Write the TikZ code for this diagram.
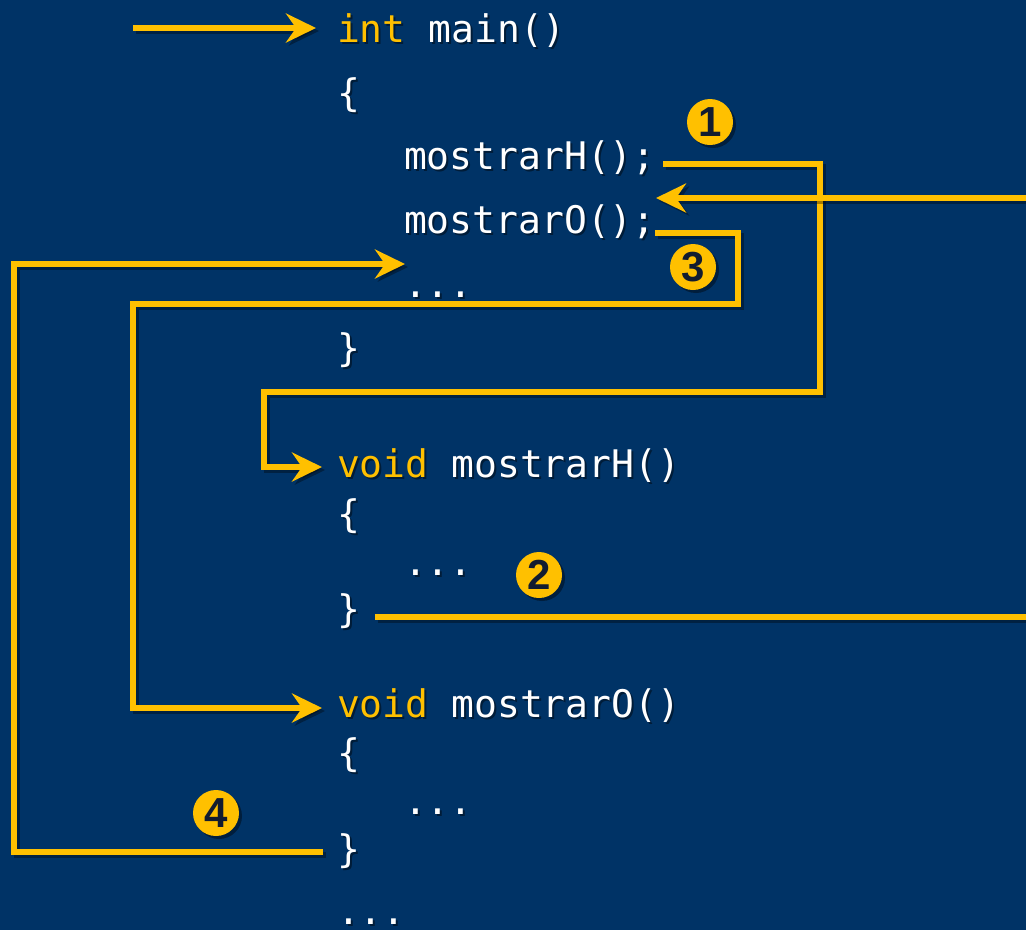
\documentclass[tikz,border=0pt]{standalone}
\usepackage{fontspec}
\newfontfamily\codefont{DejaVu Sans Mono}
\newfontfamily\badgefont{Liberation Sans}
\usetikzlibrary{arrows.meta}

\definecolor{bg}{RGB}{0,51,102}
\definecolor{gold}{RGB}{255,192,0}
\definecolor{ink}{RGB}{18,28,48}
\colorlet{kwcol}{gold}
\newcommand\kw[1]{{\color{kwcol}#1}}

\tikzset{
  code/.style={anchor=base west, inner sep=0pt, outer sep=0pt, text=white,
    font=\codefont\fontsize{38}{38}\selectfont},
  codeshadow/.style={code, text=black, opacity=0.45,
    execute at begin node={\colorlet{kwcol}{black}}},
  flow/.style={draw=gold, line width=5.5pt, line join=miter, line cap=butt},
  flowshadow/.style={draw=black, opacity=0.35, line width=5.5pt, line join=miter,
    line cap=butt, transform canvas={xshift=3pt, yshift=-3pt}},
  tip/.style={-{Stealth[length=30pt, width=29pt, inset=10pt]}},
  badge/.style={circle, fill=gold, minimum size=46pt, inner sep=0pt, text=ink,
    font=\badgefont\bfseries\fontsize{42}{42}\selectfont},
  badgeshadow/.style={circle, fill=black, opacity=0.4, minimum size=46pt, inner sep=0pt},
}

% one line of code with its drop shadow
\newcommand\codeline[4]{%
  \node[codeshadow] at ([xshift=2pt, yshift=-2pt]#2,#3) {#4};
  \node[code] (#1) at (#2,#3) {#4};}
% a numbered marker with its drop shadow
\newcommand\marker[4]{%
  \node[badgeshadow] at ([xshift=3pt, yshift=-3pt]#2,#3) {};
  \node[badge] (#1) at (#2,#3) {#4};}
% a connector with its drop shadow
\newcommand\flowline[2]{%
  \draw[flowshadow, #1] #2;
  \draw[flow, #1] #2;}

\begin{document}
\begin{tikzpicture}[x=1pt, y=-1pt]
  \fill[bg] (0,0) rectangle (1026,930);
  \useasboundingbox (0,0) rectangle (1026,930);

  % main()
  \codeline{mainhead}{337}{42}{\kw{int} main()}
  \codeline{mainopen}{337}{106}{\{}
  \codeline{callH}{404}{169}{mostrarH();}
  \codeline{callO}{404}{233}{mostrarO();}
  \codeline{mainrest}{404}{297}{...}
  \codeline{mainclose}{337}{361}{\}}

  % mostrarH()
  \codeline{hhead}{337}{477}{\kw{void} mostrarH()}
  \codeline{hopen}{337}{527}{\{}
  \codeline{hbody}{404}{575}{...}
  \codeline{hclose}{337}{622}{\}}

  % mostrarO()
  \codeline{ohead}{337}{717}{\kw{void} mostrarO()}
  \codeline{oopen}{337}{766}{\{}
  \codeline{obody}{404}{814}{...}
  \codeline{oclose}{337}{862}{\}}
  \codeline{tail}{337}{924}{...}

  % connector end points and corners
  \coordinate (in0) at (133,28);   \coordinate (in1) at (316,28);
  \coordinate (h0) at (663,164);   \coordinate (h1) at (820,164);
  \coordinate (h2) at (820,392);   \coordinate (h3) at (264,392);
  \coordinate (h4) at (264,467);   \coordinate (h5) at (322,467);
  \coordinate (rh0) at (1030,198); \coordinate (rh1) at (656,198);
  \coordinate (eh0) at (375,617);  \coordinate (eh1) at (1030,617);
  \coordinate (o0) at (655,233);   \coordinate (o1) at (738,233);
  \coordinate (o2) at (738,304);   \coordinate (o3) at (133,304);
  \coordinate (o4) at (133,708);   \coordinate (o5) at (322,708);
  \coordinate (ro0) at (323,852);  \coordinate (ro1) at (14,852);
  \coordinate (ro2) at (14,264);   \coordinate (ro3) at (405,264);

  % program entry
  \flowline{tip}{(in0) -- (in1)}
  % call of mostrarH and its return
  \flowline{tip}{(h0) -- (h1) -- (h2) -- (h3) -- (h4) -- (h5)}
  \flowline{}{(eh0) -- (eh1)}
  \flowline{tip}{(rh0) -- (rh1)}
  % call of mostrarO and its return
  \flowline{tip}{(o0) -- (o1) -- (o2) -- (o3) -- (o4) -- (o5)}
  \flowline{tip}{(ro0) -- (ro1) -- (ro2) -- (ro3)}

  % step markers
  \marker{m1}{710}{122}{1}
  \marker{m2}{539}{575}{2}
  \marker{m3}{693}{267}{3}
  \marker{m4}{216}{813}{4}
\end{tikzpicture}
\end{document}
